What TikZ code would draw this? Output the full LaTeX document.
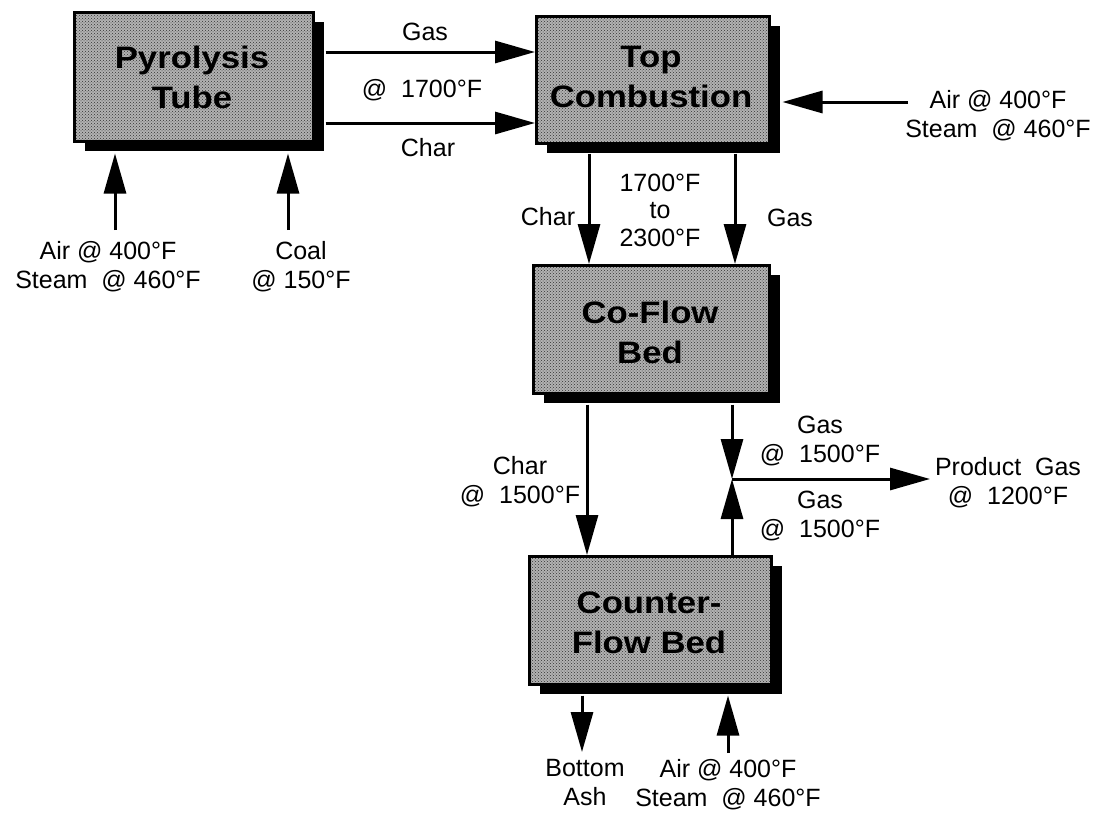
\documentclass[tikz,border=0pt]{standalone}
\usepackage{fontspec}
\setmainfont{Liberation Sans}
\newfontfamily\ttlfont{Liberation Sans}[FakeStretch=1.12]
\usetikzlibrary{arrows.meta,shadows,patterns,calc}
\tikzset{
  box/.style={drop shadow={shadow xshift=11pt, shadow yshift=-10pt, fill=black, opacity=1},
    preaction={fill=black!30},
    draw=black, line width=2.5pt, inner sep=0pt, anchor=north west,
    pattern=crosshatch dots, pattern color=black!80},
  ttl/.style={align=center, font=\ttlfont\bfseries\fontsize{31}{40}\selectfont},
  lbl/.style={align=center, font=\fontsize{25}{29}\selectfont, inner sep=0pt},
  arr/.style={line width=3pt, -{Triangle[length=40pt,width=22pt]}}
}
\begin{document}
\begin{tikzpicture}[x=1pt,y=-1pt]
\useasboundingbox (0,0) rectangle (1094,812);
% boxes
\node[box, minimum width=239pt, minimum height=129pt] (pyro) at (73,11) {};
\node[box, minimum width=233pt, minimum height=127pt] (top) at (535,15) {};
\node[box, minimum width=236pt, minimum height=128pt] (co) at (532,264) {};
\node[box, minimum width=242pt, minimum height=128pt] (cnt) at (528,555) {};
\node[ttl] (pyrot) at (192,77) {Pyrolysis\\Tube};
\node[ttl] (topt) at (651,77) {Top\\Combustion};
\node[ttl] (cot) at (650,332) {Co-Flow\\Bed};
\node[ttl] (cntt) at (649,623) {Counter-\\Flow Bed};
% shadow-edge coordinates
\coordinate (pyroS) at ($(pyro.south east)+(11,11)$);
\coordinate (topS) at ($(top.south east)+(12,9)$);
\coordinate (coS) at ($(co.south east)+(12,10)$);
\coordinate (cntS) at ($(cnt.south east)+(10,10)$);
% label nodes / free ends
\node[lbl] (lgas1) at (425,32) {Gas};
\node[lbl] (l1700) at (422,90) {@~~1700°F};
\node[lbl] (lchar1) at (428,148) {Char};
\node[lbl] (airR) at (998,116) {Air @ 400°F\\Steam~~@ 460°F};
\node[lbl] (airL) at (108,267) {Air @ 400°F\\Steam~~@ 460°F};
\node[lbl] (coal) at (301,267) {Coal\\@ 150°F};
\node[lbl] (lchar2) at (548,217) {Char};
\node[lbl, font=\fontsize{25}{27.5}\selectfont] (ltemp) at (660,210) {1700°F\\to\\2300°F};
\node[lbl] (lgas2) at (790,218) {Gas};
\node[lbl] (lchar3) at (520,482) {Char\\@~~1500°F};
\node[lbl] (lgas3) at (820,441) {Gas\\@~~1500°F};
\node[lbl] (lgas4) at (820,516) {Gas\\@~~1500°F};
\node[lbl] (prod) at (1008,483) {Product~~Gas\\@~~1200°F};
\node[lbl] (ash) at (585,783) {Bottom\\Ash};
\node[lbl] (airB) at (728,785) {Air @ 400°F\\Steam~~@ 460°F};
\coordinate (airRtail) at (908,102);
\coordinate (airLtail) at (115,230);
\coordinate (coaltail) at (288,230);
\coordinate (junc) at (732,479);
\coordinate (prodtip) at (930,479);
\coordinate (ashtip) at (582,752);
\coordinate (airBtail) at (728,753);
% connectors
\draw[arr] (pyroS |- 0,52) -- (top.west |- 0,52);
\draw[arr] (pyroS |- 0,123) -- (top.west |- 0,123);
\draw[arr] (airRtail) -- (topS |- airRtail);
\draw[arr] (airLtail) -- (airLtail |- pyroS);
\draw[arr] (coaltail) -- (coaltail |- pyroS);
\draw[arr] (589,0 |- topS) -- (589,0 |- co.north);
\draw[arr] (735,0 |- topS) -- (735,0 |- co.north);
\draw[arr] (587,0 |- coS) -- (587,0 |- cnt.north);
\draw[arr] (732,0 |- coS) -- (junc);
\draw[arr] (732,0 |- cnt.north) -- (junc);
\draw[arr] (junc) -- (prodtip);
\draw[arr] (ashtip |- cntS) -- (ashtip);
\draw[arr] (airBtail) -- (airBtail |- cntS);
\end{tikzpicture}
\end{document}
